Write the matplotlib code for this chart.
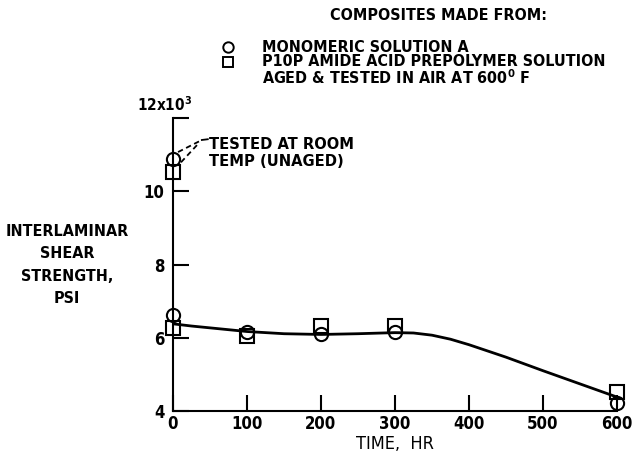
import matplotlib
matplotlib.use("Agg")
import matplotlib.pyplot as plt
from matplotlib.lines import Line2D

plt.rcParams['font.family'] = ['DejaVu Sans']
plt.rcParams['font.stretch'] = 'condensed'
plt.rcParams['font.weight'] = 'bold'
plt.rcParams['mathtext.fontset'] = 'custom'
plt.rcParams['mathtext.rm'] = 'DejaVu Sans:bold'
plt.rcParams['mathtext.it'] = 'DejaVu Sans:bold'
plt.rcParams['mathtext.bf'] = 'DejaVu Sans:bold'

# ---- data ----
time_aged = [0, 100, 200, 300, 600]
monomeric = [6.63, 6.17, 6.10, 6.16, 4.23]
prepolymer = [6.27, 6.05, 6.31, 6.33, 4.53]
room_time = [0]
room_monomeric = [10.88]
room_prepolymer = [10.53]
curve_time = [0, 25, 50, 75, 100, 150, 200, 250, 300, 325, 350, 375, 400, 450, 500, 550, 600]
curve_value = [6.38, 6.32, 6.27, 6.22, 6.17, 6.11, 6.09, 6.11, 6.14, 6.13, 6.07, 5.96, 5.81, 5.47, 5.10, 4.74, 4.38]
x_ticks = [0, 100, 200, 300, 400, 500, 600]
x_labels = ['0', '100', '200', '300', '400', '500', '600']
y_ticks = [4, 6, 8, 10, 12]
y_labels = ['4', '6', '8', '10', '']

W, H = 633, 463
fig = plt.figure(figsize=(W / 100, H / 100), dpi=100)
ax = fig.add_axes([173 / W, 1 - 411 / H, 444 / W, (411 - 118) / H])

ax.plot(curve_time, curve_value, color='black', lw=2.0, solid_capstyle='round', solid_joinstyle='round')
mk = dict(ls='none', mfc='none', mec='black', mew=1.5, ms=9.5, clip_on=False)
ax.plot(time_aged, prepolymer, marker='s', **mk)
ax.plot(time_aged, monomeric, marker='o', **mk)
ax.plot(room_time, room_prepolymer, marker='s', **mk)
ax.plot(room_time, room_monomeric, marker='o', **mk)

ax.set_xlim(0, 600)
ax.set_ylim(4, 12)
ax.set_xticks(x_ticks)
ax.set_xticklabels(x_labels)
ax.set_yticks(y_ticks)
ax.set_yticklabels(y_labels)
for s in ['top', 'right']:
    ax.spines[s].set_visible(False)
for s in ['left', 'bottom']:
    ax.spines[s].set_linewidth(1.5)
ax.tick_params(direction='in', length=11.5, width=1.5, labelsize=12)
ax.tick_params(axis='x', pad=3)
ax.tick_params(axis='y', pad=6)

ax.set_xlabel('TIME,  HR', fontsize=13, labelpad=1)

fig.text(67 / W, 1 - 265 / H, 'INTERLAMINAR\nSHEAR\nSTRENGTH,\nPSI', ha='center', va='center',
         fontsize=11.5, linespacing=1.62, multialignment='center')
fig.text(192 / W, 1 - 105 / H, '12x10$^3$', ha='right', va='center', fontsize=11)

# annotation
ax.text(48.6, 11.05, 'TESTED AT ROOM\nTEMP (UNAGED)', ha='left', va='center', fontsize=11.8, linespacing=1.12)
ax.plot([6.8, 39], [11.07, 11.40], color='black', lw=1.3, ls=(0, (3, 2)))
ax.plot([10.8, 32.4], [10.79, 11.26], color='black', lw=1.3, ls=(0, (3, 2)))
ax.plot([39, 47], [11.40, 11.42], color='black', lw=1.3)

# legend block
fig.text(330 / W, 1 - 15 / H, 'COMPOSITES MADE FROM:', ha='left', va='center', fontsize=11.5)
fig.add_artist(Line2D([228 / W], [1 - 47 / H], marker='o', mfc='none', mec='black', mew=1.4, ms=7.5,
                      transform=fig.transFigure))
fig.add_artist(Line2D([228 / W], [1 - 62 / H], marker='s', mfc='none', mec='black', mew=1.4, ms=7.5,
                      transform=fig.transFigure))
fig.text(262 / W, 1 - 47 / H, 'MONOMERIC SOLUTION A', ha='left', va='center', fontsize=11.5)
fig.text(262 / W, 1 - 62 / H, 'P10P AMIDE ACID PREPOLYMER SOLUTION', ha='left', va='center', fontsize=11.5)
fig.text(262 / W, 1 - 78 / H, 'AGED & TESTED IN AIR AT 600$^0$ F', ha='left', va='center', fontsize=11.5)

fig.savefig('out.png', dpi=100)
